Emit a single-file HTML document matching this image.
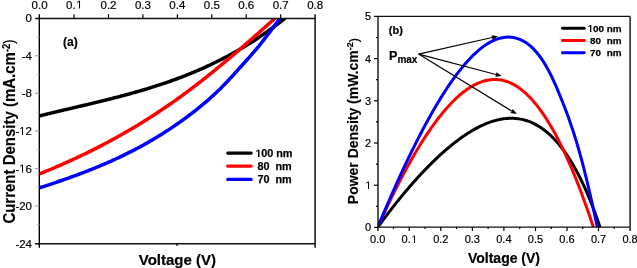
<!DOCTYPE html>
<html><head><meta charset="utf-8"><style>
html,body{margin:0;padding:0;background:#fff;}
body{width:637px;height:268px;overflow:hidden;font-family:"Liberation Sans",sans-serif;}
svg{display:block;}
</style></head><body>
<div style="will-change:transform;width:637px;height:268px"><svg width="637" height="268" viewBox="0 0 637 268">
<defs><clipPath id="cl"><rect x="39.6" y="18.2" width="275.5" height="225.4"/></clipPath><clipPath id="cr"><rect x="377.7" y="16.6" width="252.4" height="210.8"/></clipPath></defs>
<g clip-path="url(#cl)">
<path d="M39.60 115.85L41.14 115.47L42.69 115.09L44.23 114.71L45.78 114.34L47.32 113.96L48.86 113.59L50.41 113.22L51.95 112.85L53.50 112.48L55.04 112.11L56.59 111.74L58.13 111.38L59.67 111.01L61.22 110.65L62.76 110.28L64.31 109.92L65.85 109.56L67.39 109.19L68.94 108.83L70.48 108.47L72.03 108.11L73.57 107.75L75.12 107.38L76.66 107.02L78.20 106.66L79.75 106.30L81.29 105.93L82.84 105.57L84.38 105.21L85.92 104.84L87.47 104.48L89.01 104.11L90.56 103.74L92.10 103.37L93.65 103.00L95.19 102.63L96.73 102.26L98.28 101.89L99.82 101.51L101.37 101.13L102.91 100.76L104.45 100.38L106.00 99.99L107.54 99.61L109.09 99.22L110.63 98.83L112.17 98.44L113.72 98.05L115.26 97.65L116.81 97.25L118.35 96.85L119.90 96.45L121.44 96.04L122.98 95.63L124.53 95.22L126.07 94.81L127.62 94.39L129.16 93.97L130.70 93.54L132.25 93.11L133.79 92.68L135.34 92.24L136.88 91.80L138.43 91.36L139.97 90.91L141.51 90.46L143.06 90.00L144.60 89.54L146.15 89.08L147.69 88.61L149.23 88.14L150.78 87.66L152.32 87.18L153.87 86.69L155.41 86.20L156.95 85.70L158.50 85.20L160.04 84.69L161.59 84.18L163.13 83.66L164.68 83.14L166.22 82.61L167.76 82.08L169.31 81.54L170.85 80.99L172.40 80.44L173.94 79.89L175.48 79.32L177.03 78.75L178.57 78.18L180.12 77.60L181.66 77.01L183.21 76.41L184.75 75.81L186.29 75.20L187.84 74.59L189.38 73.97L190.93 73.34L192.47 72.70L194.01 72.06L195.56 71.41L197.10 70.75L198.65 70.09L200.19 69.42L201.74 68.74L203.28 68.05L204.82 67.35L206.37 66.65L207.91 65.94L209.46 65.22L211.00 64.49L212.54 63.76L214.09 63.01L215.63 62.26L217.18 61.50L218.72 60.73L220.26 59.95L221.81 59.17L223.35 58.37L224.90 57.56L226.44 56.75L227.99 55.93L229.53 55.10L231.07 54.25L232.62 53.40L234.16 52.54L235.71 51.67L237.25 50.79L238.79 49.90L240.34 49.00L241.88 48.09L243.43 47.17L244.97 46.24L246.52 45.30L248.06 44.35L249.60 43.39L251.15 42.42L252.69 41.44L254.24 40.45L255.78 39.44L257.32 38.43L258.87 37.40L260.41 36.37L261.96 35.32L263.50 34.26L265.04 33.19L266.59 32.11L268.13 31.01L269.68 29.91L271.22 28.79L272.77 27.66L274.31 26.52L275.85 25.37L277.40 24.21L278.94 23.03L280.49 21.84L282.03 20.64L283.57 19.43L285.12 18.20" fill="none" stroke="#000" stroke-width="3.5" stroke-linejoin="round"/>
<path d="M39.60 173.91L41.08 173.31L42.56 172.70L44.04 172.10L45.52 171.49L47.01 170.87L48.49 170.25L49.97 169.63L51.45 169.01L52.93 168.38L54.41 167.75L55.89 167.11L57.37 166.47L58.85 165.83L60.34 165.18L61.82 164.53L63.30 163.87L64.78 163.22L66.26 162.55L67.74 161.89L69.22 161.21L70.70 160.54L72.18 159.86L73.66 159.18L75.15 158.49L76.63 157.80L78.11 157.10L79.59 156.40L81.07 155.70L82.55 154.99L84.03 154.27L85.51 153.56L86.99 152.84L88.48 152.11L89.96 151.38L91.44 150.64L92.92 149.90L94.40 149.16L95.88 148.41L97.36 147.65L98.84 146.89L100.32 146.13L101.81 145.36L103.29 144.59L104.77 143.81L106.25 143.03L107.73 142.24L109.21 141.45L110.69 140.65L112.17 139.85L113.65 139.04L115.13 138.23L116.62 137.41L118.10 136.59L119.58 135.76L121.06 134.92L122.54 134.09L124.02 133.24L125.50 132.39L126.98 131.54L128.46 130.68L129.95 129.81L131.43 128.94L132.91 128.06L134.39 127.18L135.87 126.29L137.35 125.40L138.83 124.50L140.31 123.60L141.79 122.69L143.28 121.77L144.76 120.85L146.24 119.92L147.72 118.99L149.20 118.05L150.68 117.10L152.16 116.15L153.64 115.19L155.12 114.23L156.60 113.26L158.09 112.29L159.57 111.31L161.05 110.32L162.53 109.32L164.01 108.32L165.49 107.32L166.97 106.31L168.45 105.29L169.93 104.26L171.42 103.23L172.90 102.19L174.38 101.15L175.86 100.10L177.34 99.04L178.82 97.98L180.30 96.91L181.78 95.83L183.26 94.74L184.75 93.65L186.23 92.56L187.71 91.46L189.19 90.35L190.67 89.23L192.15 88.11L193.63 86.98L195.11 85.85L196.59 84.71L198.07 83.57L199.56 82.42L201.04 81.26L202.52 80.10L204.00 78.93L205.48 77.76L206.96 76.59L208.44 75.40L209.92 74.22L211.40 73.02L212.89 71.83L214.37 70.63L215.85 69.42L217.33 68.21L218.81 66.99L220.29 65.77L221.77 64.55L223.25 63.32L224.73 62.08L226.22 60.85L227.70 59.61L229.18 58.36L230.66 57.11L232.14 55.86L233.62 54.60L235.10 53.34L236.58 52.07L238.06 50.81L239.54 49.53L241.03 48.26L242.51 46.98L243.99 45.70L245.47 44.42L246.95 43.13L248.43 41.84L249.91 40.55L251.39 39.25L252.87 37.95L254.36 36.65L255.84 35.35L257.32 34.04L258.80 32.73L260.28 31.42L261.76 30.11L263.24 28.79L264.72 27.47L266.20 26.15L267.69 24.83L269.17 23.51L270.65 22.18L272.13 20.86L273.61 19.53L275.09 18.20" fill="none" stroke="#f00" stroke-width="3.5" stroke-linejoin="round"/>
<path d="M39.60 187.77L41.11 187.28L42.62 186.80L44.14 186.30L45.65 185.81L47.16 185.31L48.67 184.82L50.19 184.32L51.70 183.81L53.21 183.31L54.72 182.80L56.24 182.29L57.75 181.78L59.26 181.26L60.77 180.74L62.29 180.22L63.80 179.70L65.31 179.17L66.82 178.63L68.34 178.10L69.85 177.56L71.36 177.02L72.87 176.47L74.39 175.92L75.90 175.36L77.41 174.81L78.92 174.24L80.43 173.68L81.95 173.10L83.46 172.53L84.97 171.95L86.48 171.36L88.00 170.77L89.51 170.18L91.02 169.58L92.53 168.97L94.05 168.36L95.56 167.75L97.07 167.13L98.58 166.50L100.10 165.87L101.61 165.23L103.12 164.59L104.63 163.94L106.15 163.29L107.66 162.62L109.17 161.96L110.68 161.28L112.20 160.60L113.71 159.92L115.22 159.22L116.73 158.53L118.24 157.82L119.76 157.11L121.27 156.39L122.78 155.66L124.29 154.93L125.81 154.18L127.32 153.44L128.83 152.68L130.34 151.92L131.86 151.15L133.37 150.37L134.88 149.58L136.39 148.79L137.91 147.98L139.42 147.17L140.93 146.35L142.44 145.53L143.96 144.69L145.47 143.85L146.98 142.99L148.49 142.13L150.01 141.26L151.52 140.38L153.03 139.49L154.54 138.60L156.05 137.69L157.57 136.77L159.08 135.85L160.59 134.91L162.10 133.97L163.62 133.02L165.13 132.05L166.64 131.08L168.15 130.10L169.67 129.10L171.18 128.10L172.69 127.08L174.20 126.06L175.72 125.02L177.23 123.98L178.74 122.92L180.25 121.86L181.77 120.78L183.28 119.69L184.79 118.59L186.30 117.48L187.82 116.36L189.33 115.22L190.84 114.08L192.35 112.92L193.86 111.75L195.38 110.57L196.89 109.37L198.40 108.16L199.91 106.94L201.43 105.70L202.94 104.44L204.45 103.17L205.96 101.88L207.48 100.57L208.99 99.24L210.50 97.90L212.01 96.53L213.53 95.15L215.04 93.74L216.55 92.31L218.06 90.86L219.58 89.39L221.09 87.89L222.60 86.38L224.11 84.83L225.63 83.26L227.14 81.67L228.65 80.06L230.16 78.43L231.67 76.78L233.19 75.12L234.70 73.46L236.21 71.78L237.72 70.10L239.24 68.42L240.75 66.75L242.26 65.07L243.77 63.40L245.29 61.72L246.80 60.03L248.31 58.34L249.82 56.63L251.34 54.92L252.85 53.18L254.36 51.43L255.87 49.65L257.39 47.85L258.90 46.02L260.41 44.17L261.92 42.28L263.44 40.37L264.95 38.42L266.46 36.46L267.97 34.48L269.48 32.48L271.00 30.46L272.51 28.43L274.02 26.39L275.53 24.35L277.05 22.30L278.56 20.25L280.07 18.20" fill="none" stroke="#00f" stroke-width="3.5" stroke-linejoin="round"/>
</g>
<path d="M35.0 18.5 H315.1 M35.0 243.8 H315.1" stroke="#111" stroke-width="1.4" fill="none"/>
<path d="M39.3 14.2 V247.8 M315.1 14.2 V247.8" stroke="#000" stroke-width="1.4" fill="none"/>
<path d="M177 243.8 V246.10000000000002" stroke="#000" stroke-width="1.2"/>
<text x="31.61" y="8.6" font-family="Liberation Sans, sans-serif" font-size="11.5" style="font-kerning:none" stroke="#000" stroke-width="0.2">0.0</text>
<path d="M74.0 18.5 V14.2" stroke="#000" stroke-width="1.2"/>
<text x="66.05" y="8.6" font-family="Liberation Sans, sans-serif" font-size="11.5" style="font-kerning:none" stroke="#000" stroke-width="0.2">0. </text>
<path transform="translate(76.11 8.6) scale(0.005615 -0.005615)" d="M515 0H696V1409H530L197 1180V1010L515 1237Z" fill="#000" stroke="#000" stroke-width="0.2"/>
<path d="M108.5 18.5 V14.2" stroke="#000" stroke-width="1.2"/>
<text x="100.49" y="8.6" font-family="Liberation Sans, sans-serif" font-size="11.5" style="font-kerning:none" stroke="#000" stroke-width="0.2">0.2</text>
<path d="M142.9 18.5 V14.2" stroke="#000" stroke-width="1.2"/>
<text x="134.93" y="8.6" font-family="Liberation Sans, sans-serif" font-size="11.5" style="font-kerning:none" stroke="#000" stroke-width="0.2">0.3</text>
<path d="M177.4 18.5 V14.2" stroke="#000" stroke-width="1.2"/>
<text x="169.37" y="8.6" font-family="Liberation Sans, sans-serif" font-size="11.5" style="font-kerning:none" stroke="#000" stroke-width="0.2">0.4</text>
<path d="M211.8 18.5 V14.2" stroke="#000" stroke-width="1.2"/>
<text x="203.81" y="8.6" font-family="Liberation Sans, sans-serif" font-size="11.5" style="font-kerning:none" stroke="#000" stroke-width="0.2">0.5</text>
<path d="M246.2 18.5 V14.2" stroke="#000" stroke-width="1.2"/>
<text x="238.25" y="8.6" font-family="Liberation Sans, sans-serif" font-size="11.5" style="font-kerning:none" stroke="#000" stroke-width="0.2">0.6</text>
<path d="M280.7 18.5 V14.2" stroke="#000" stroke-width="1.2"/>
<text x="272.69" y="8.6" font-family="Liberation Sans, sans-serif" font-size="11.5" style="font-kerning:none" stroke="#000" stroke-width="0.2">0.7</text>
<text x="307.13" y="8.6" font-family="Liberation Sans, sans-serif" font-size="11.5" style="font-kerning:none" stroke="#000" stroke-width="0.2">0.8</text>
<text x="25.60" y="22.3" font-family="Liberation Sans, sans-serif" font-size="11.5" style="font-kerning:none" stroke="#000" stroke-width="0.2">0</text>
<path d="M36.8 37.0 H39.3" stroke="#bbb" stroke-width="1"/>
<path d="M34.8 55.8 H39.3" stroke="#999" stroke-width="1"/>
<text x="21.77" y="59.9" font-family="Liberation Sans, sans-serif" font-size="11.5" style="font-kerning:none" stroke="#000" stroke-width="0.2">-4</text>
<path d="M36.8 74.5 H39.3" stroke="#bbb" stroke-width="1"/>
<path d="M34.8 93.3 H39.3" stroke="#999" stroke-width="1"/>
<text x="21.77" y="97.4" font-family="Liberation Sans, sans-serif" font-size="11.5" style="font-kerning:none" stroke="#000" stroke-width="0.2">-8</text>
<path d="M36.8 112.1 H39.3" stroke="#bbb" stroke-width="1"/>
<path d="M34.8 130.9 H39.3" stroke="#999" stroke-width="1"/>
<text x="15.38" y="135.0" font-family="Liberation Sans, sans-serif" font-size="11.5" style="font-kerning:none" stroke="#000" stroke-width="0.2">- 2</text>
<path transform="translate(19.11 135.0) scale(0.005615 -0.005615)" d="M515 0H696V1409H530L197 1180V1010L515 1237Z" fill="#000" stroke="#000" stroke-width="0.2"/>
<path d="M36.8 149.7 H39.3" stroke="#bbb" stroke-width="1"/>
<path d="M34.8 168.4 H39.3" stroke="#999" stroke-width="1"/>
<text x="15.38" y="172.5" font-family="Liberation Sans, sans-serif" font-size="11.5" style="font-kerning:none" stroke="#000" stroke-width="0.2">- 6</text>
<path transform="translate(19.11 172.5) scale(0.005615 -0.005615)" d="M515 0H696V1409H530L197 1180V1010L515 1237Z" fill="#000" stroke="#000" stroke-width="0.2"/>
<path d="M36.8 187.2 H39.3" stroke="#bbb" stroke-width="1"/>
<path d="M34.8 206.0 H39.3" stroke="#999" stroke-width="1"/>
<text x="15.38" y="210.1" font-family="Liberation Sans, sans-serif" font-size="11.5" style="font-kerning:none" stroke="#000" stroke-width="0.2">-20</text>
<path d="M36.8 224.8 H39.3" stroke="#bbb" stroke-width="1"/>
<text x="15.38" y="247.7" font-family="Liberation Sans, sans-serif" font-size="11.5" style="font-kerning:none" stroke="#000" stroke-width="0.2">-24</text>
<text x="177.4" y="264.9" font-family="Liberation Sans, sans-serif" font-size="15" font-weight="bold" text-anchor="middle" stroke="#000" stroke-width="0.2">Voltage (V)</text>
<text transform="translate(14.8 223.6) rotate(-90) scale(1 1.06)" font-family="Liberation Sans, sans-serif" font-size="15" font-weight="bold" stroke="#000" stroke-width="0.15">Current Density (mA.cm<tspan dy="-4.8" font-size="9.5">-2</tspan><tspan dy="4.3" font-size="13" font-weight="normal">)</tspan></text>
<text x="63" y="45.6" font-family="Liberation Sans, sans-serif" font-size="12" font-weight="bold" stroke="#000" stroke-width="0.2">(a)</text>
<path d="M227.7 153.1 H251.2" stroke="#000" stroke-width="3.1" stroke-linecap="round"/>
<path d="M227.7 166.1 H251.2" stroke="#f00" stroke-width="3.1" stroke-linecap="round"/>
<path d="M227.7 179.4 H251.2" stroke="#00f" stroke-width="3.1" stroke-linecap="round"/>
<text x="255.20" y="157.1" font-family="Liberation Sans, sans-serif" font-size="10.8" font-weight="bold" style="font-kerning:none" stroke="#000" stroke-width="0.25"> 00 nm</text>
<path transform="translate(255.48 157.1) scale(0.005273 -0.005273)" d="M478 0H759V1409H493L140 1180V959L478 1170Z" fill="#000" stroke="#000" stroke-width="0.25"/>
<text x="257.5" y="170.1" font-family="Liberation Sans, sans-serif" font-size="10.8" font-weight="bold" stroke="#000" stroke-width="0.25">80</text>
<text x="257.5" y="183.4" font-family="Liberation Sans, sans-serif" font-size="10.8" font-weight="bold" stroke="#000" stroke-width="0.25">70</text>
<text x="275.5" y="170.1" font-family="Liberation Sans, sans-serif" font-size="10.8" font-weight="bold" stroke="#000" stroke-width="0.25">nm</text>
<text x="275.5" y="183.4" font-family="Liberation Sans, sans-serif" font-size="10.8" font-weight="bold" stroke="#000" stroke-width="0.25">nm</text>
<g clip-path="url(#cr)">
<path d="M377.70 227.40L379.11 225.44L380.53 223.50L381.94 221.57L383.36 219.65L384.77 217.75L386.19 215.87L387.60 214.00L389.02 212.14L390.43 210.30L391.85 208.48L393.26 206.67L394.67 204.87L396.09 203.09L397.50 201.32L398.92 199.57L400.33 197.83L401.75 196.11L403.16 194.40L404.58 192.70L405.99 191.02L407.41 189.36L408.82 187.70L410.24 186.07L411.65 184.45L413.06 182.84L414.48 181.25L415.89 179.67L417.31 178.11L418.72 176.56L420.14 175.03L421.55 173.51L422.97 172.01L424.38 170.52L425.80 169.05L427.21 167.59L428.62 166.15L430.04 164.73L431.45 163.32L432.87 161.93L434.28 160.56L435.70 159.20L437.11 157.86L438.53 156.53L439.94 155.22L441.35 153.93L442.77 152.66L444.18 151.41L445.60 150.17L447.01 148.95L448.43 147.75L449.84 146.57L451.25 145.41L452.67 144.27L454.08 143.14L455.50 142.04L456.91 140.96L458.33 139.90L459.74 138.85L461.15 137.83L462.57 136.83L463.98 135.86L465.39 134.90L466.81 133.97L468.22 133.06L469.64 132.17L471.05 131.30L472.46 130.46L473.88 129.65L475.29 128.85L476.70 128.09L478.11 127.34L479.53 126.63L480.94 125.94L482.35 125.27L483.76 124.64L485.18 124.03L486.59 123.45L488.00 122.89L489.41 122.37L490.82 121.87L492.24 121.41L493.65 120.97L495.06 120.57L496.47 120.19L497.88 119.85L499.29 119.54L500.70 119.26L502.11 119.02L503.52 118.81L504.93 118.63L506.34 118.49L507.75 118.38L509.15 118.31L510.56 118.28L511.97 118.28L513.38 118.32L514.78 118.40L516.19 118.52L517.60 118.68L519.00 118.87L520.41 119.11L521.81 119.39L523.21 119.71L524.62 120.07L526.02 120.48L527.42 120.93L528.82 121.42L530.23 121.96L531.63 122.55L533.03 123.18L534.42 123.86L535.82 124.59L537.22 125.36L538.62 126.19L540.01 127.06L541.41 127.99L542.80 128.97L544.20 130.00L545.59 131.08L546.98 132.22L548.37 133.41L549.76 134.66L551.15 135.96L552.54 137.32L553.93 138.73L555.31 140.21L556.69 141.74L558.08 143.34L559.46 145.00L560.84 146.71L562.22 148.49L563.60 150.34L564.97 152.24L566.35 154.22L567.72 156.26L569.09 158.36L570.46 160.54L571.83 162.78L573.20 165.09L574.56 167.47L575.93 169.93L577.29 172.45L578.65 175.05L580.00 177.73L581.36 180.48L582.71 183.30L584.07 186.20L585.41 189.18L586.76 192.24L588.11 195.38L589.45 198.60L590.79 201.91L592.13 205.29L593.46 208.76L594.79 212.31L596.12 215.95L597.45 219.68L598.77 223.50L600.09 227.40" fill="none" stroke="#000" stroke-width="3.0" stroke-linejoin="round"/>
<path d="M377.70 227.40L379.06 224.37L380.41 221.37L381.77 218.39L383.13 215.43L384.48 212.50L385.84 209.59L387.20 206.71L388.55 203.85L389.91 201.02L391.27 198.21L392.62 195.43L393.98 192.67L395.34 189.94L396.70 187.23L398.05 184.55L399.41 181.90L400.77 179.28L402.12 176.68L403.48 174.11L404.84 171.57L406.19 169.05L407.55 166.57L408.91 164.11L410.26 161.68L411.62 159.28L412.98 156.90L414.33 154.56L415.69 152.25L417.05 149.97L418.40 147.71L419.76 145.49L421.12 143.30L422.47 141.14L423.83 139.01L425.19 136.92L426.54 134.85L427.90 132.82L429.26 130.82L430.61 128.85L431.97 126.91L433.33 125.01L434.69 123.15L436.04 121.31L437.40 119.51L438.76 117.75L440.11 116.02L441.47 114.33L442.83 112.67L444.18 111.05L445.54 109.46L446.90 107.91L448.25 106.40L449.61 104.92L450.97 103.48L452.32 102.08L453.68 100.72L455.04 99.40L456.39 98.12L457.75 96.87L459.11 95.67L460.46 94.50L461.82 93.38L463.18 92.29L464.53 91.25L465.89 90.25L467.25 89.29L468.60 88.37L469.96 87.50L471.32 86.67L472.68 85.88L474.03 85.14L475.39 84.44L476.75 83.78L478.10 83.17L479.46 82.61L480.82 82.09L482.17 81.61L483.53 81.19L484.89 80.81L486.24 80.47L487.60 80.19L488.96 79.95L490.31 79.76L491.67 79.62L493.03 79.53L494.38 79.49L495.74 79.50L497.10 79.57L498.45 79.68L499.81 79.84L501.17 80.06L502.52 80.32L503.88 80.65L505.24 81.02L506.60 81.45L507.95 81.93L509.31 82.47L510.67 83.06L512.02 83.70L513.38 84.40L514.74 85.16L516.09 85.97L517.45 86.84L518.81 87.76L520.16 88.74L521.52 89.78L522.88 90.87L524.23 92.02L525.59 93.22L526.95 94.49L528.30 95.80L529.66 97.18L531.02 98.61L532.37 100.11L533.73 101.65L535.09 103.26L536.44 104.92L537.80 106.64L539.16 108.42L540.51 110.26L541.87 112.16L543.23 114.11L544.59 116.12L545.94 118.19L547.30 120.32L548.66 122.51L550.01 124.75L551.37 127.06L552.73 129.42L554.08 131.84L555.44 134.32L556.80 136.86L558.15 139.46L559.51 142.11L560.87 144.83L562.22 147.60L563.58 150.43L564.94 153.32L566.29 156.27L567.65 159.27L569.01 162.34L570.36 165.46L571.72 168.64L573.08 171.88L574.43 175.18L575.79 178.54L577.15 181.95L578.51 185.42L579.86 188.95L581.22 192.54L582.58 196.18L583.93 199.89L585.29 203.64L586.65 207.46L588.00 211.34L589.36 215.27L590.72 219.25L592.07 223.30L593.43 227.40" fill="none" stroke="#f00" stroke-width="3.0" stroke-linejoin="round"/>
<path d="M377.70 227.40L379.09 224.06L380.47 220.75L381.86 217.45L383.24 214.17L384.63 210.91L386.01 207.67L387.40 204.45L388.78 201.25L390.17 198.07L391.55 194.91L392.94 191.78L394.33 188.66L395.71 185.56L397.10 182.49L398.48 179.44L399.87 176.40L401.25 173.39L402.64 170.41L404.02 167.44L405.41 164.50L406.80 161.58L408.18 158.68L409.57 155.81L410.95 152.96L412.34 150.13L413.72 147.33L415.11 144.55L416.49 141.80L417.88 139.07L419.26 136.37L420.65 133.69L422.04 131.04L423.42 128.42L424.81 125.82L426.19 123.25L427.58 120.71L428.96 118.20L430.35 115.71L431.73 113.25L433.12 110.83L434.50 108.43L435.89 106.06L437.28 103.72L438.66 101.41L440.05 99.14L441.43 96.89L442.82 94.68L444.20 92.50L445.59 90.35L446.97 88.24L448.36 86.16L449.74 84.12L451.13 82.11L452.52 80.13L453.90 78.19L455.29 76.29L456.67 74.43L458.06 72.60L459.44 70.81L460.83 69.06L462.21 67.35L463.60 65.68L464.98 64.05L466.37 62.46L467.75 60.91L469.14 59.41L470.52 57.95L471.91 56.53L473.29 55.15L474.68 53.82L476.06 52.54L477.45 51.30L478.83 50.11L480.22 48.96L481.60 47.86L482.99 46.82L484.37 45.82L485.76 44.87L487.14 43.97L488.53 43.13L489.91 42.33L491.30 41.59L492.68 40.90L494.07 40.27L495.45 39.69L496.84 39.17L498.22 38.71L499.60 38.30L500.99 37.95L502.37 37.66L503.76 37.43L505.14 37.26L506.53 37.15L507.91 37.10L509.29 37.12L510.68 37.20L512.06 37.35L513.44 37.56L514.83 37.83L516.21 38.18L517.59 38.59L518.98 39.08L520.36 39.63L521.74 40.27L523.12 40.98L524.51 41.76L525.89 42.63L527.27 43.58L528.65 44.62L530.03 45.74L531.42 46.96L532.80 48.26L534.18 49.67L535.56 51.16L536.94 52.76L538.32 54.46L539.70 56.27L541.08 58.18L542.46 60.21L543.84 62.34L545.22 64.60L546.60 66.97L547.98 69.46L549.36 72.07L550.74 74.80L552.12 77.64L553.49 80.57L554.87 83.60L556.25 86.73L557.62 89.93L559.00 93.21L560.38 96.56L561.75 99.97L563.13 103.44L564.50 106.98L565.88 110.60L567.25 114.30L568.63 118.08L570.00 121.97L571.37 125.96L572.75 130.06L574.12 134.28L575.49 138.64L576.86 143.13L578.23 147.78L579.60 152.58L580.97 157.54L582.34 162.66L583.71 167.93L585.08 173.34L586.45 178.89L587.81 184.57L589.18 190.38L590.54 196.30L591.91 202.33L593.27 208.47L594.64 214.69L596.00 221.01L597.36 227.40" fill="none" stroke="#00f" stroke-width="3.0" stroke-linejoin="round"/>
</g>
<path d="M374.0 16.4 H630.1 M378.0 227.1 H630.1" stroke="#111" stroke-width="1.4" fill="none"/>
<path d="M378.0 16.4 V231.1 M630.1 16.4 V231.1" stroke="#111" stroke-width="1.4" fill="none"/>
<text x="370.05" y="243" font-family="Liberation Sans, sans-serif" font-size="11" style="font-kerning:none" stroke="#000" stroke-width="0.2">0.0</text>
<path d="M393.5 227.1 V229.1" stroke="#000" stroke-width="1.2"/>
<path d="M409.2 227.1 V231.1" stroke="#000" stroke-width="1.2"/>
<text x="401.60" y="243" font-family="Liberation Sans, sans-serif" font-size="11" style="font-kerning:none" stroke="#000" stroke-width="0.2">0. </text>
<path transform="translate(411.23 243) scale(0.005371 -0.005371)" d="M515 0H696V1409H530L197 1180V1010L515 1237Z" fill="#000" stroke="#000" stroke-width="0.2"/>
<path d="M425.0 227.1 V229.1" stroke="#000" stroke-width="1.2"/>
<path d="M440.8 227.1 V231.1" stroke="#000" stroke-width="1.2"/>
<text x="433.15" y="243" font-family="Liberation Sans, sans-serif" font-size="11" style="font-kerning:none" stroke="#000" stroke-width="0.2">0.2</text>
<path d="M456.6 227.1 V229.1" stroke="#000" stroke-width="1.2"/>
<path d="M472.4 227.1 V231.1" stroke="#000" stroke-width="1.2"/>
<text x="464.70" y="243" font-family="Liberation Sans, sans-serif" font-size="11" style="font-kerning:none" stroke="#000" stroke-width="0.2">0.3</text>
<path d="M488.1 227.1 V229.1" stroke="#000" stroke-width="1.2"/>
<path d="M503.9 227.1 V231.1" stroke="#000" stroke-width="1.2"/>
<text x="496.25" y="243" font-family="Liberation Sans, sans-serif" font-size="11" style="font-kerning:none" stroke="#000" stroke-width="0.2">0.4</text>
<path d="M519.7 227.1 V229.1" stroke="#000" stroke-width="1.2"/>
<path d="M535.5 227.1 V231.1" stroke="#000" stroke-width="1.2"/>
<text x="527.80" y="243" font-family="Liberation Sans, sans-serif" font-size="11" style="font-kerning:none" stroke="#000" stroke-width="0.2">0.5</text>
<path d="M551.2 227.1 V229.1" stroke="#000" stroke-width="1.2"/>
<path d="M567.0 227.1 V231.1" stroke="#000" stroke-width="1.2"/>
<text x="559.35" y="243" font-family="Liberation Sans, sans-serif" font-size="11" style="font-kerning:none" stroke="#000" stroke-width="0.2">0.6</text>
<path d="M582.8 227.1 V229.1" stroke="#000" stroke-width="1.2"/>
<path d="M598.5 227.1 V231.1" stroke="#000" stroke-width="1.2"/>
<text x="590.90" y="243" font-family="Liberation Sans, sans-serif" font-size="11" style="font-kerning:none" stroke="#000" stroke-width="0.2">0.7</text>
<path d="M614.3 227.1 V229.1" stroke="#000" stroke-width="1.2"/>
<text x="622.45" y="243" font-family="Liberation Sans, sans-serif" font-size="11" style="font-kerning:none" stroke="#000" stroke-width="0.2">0.8</text>
<path d="M374.0 227.4 H378.0" stroke="#000" stroke-width="1.2"/>
<text x="364.88" y="231.3" font-family="Liberation Sans, sans-serif" font-size="11" style="font-kerning:none" stroke="#000" stroke-width="0.2">0</text>
<path d="M376.0 206.3 H378.0" stroke="#000" stroke-width="1.2"/>
<path d="M374.0 185.2 H378.0" stroke="#000" stroke-width="1.2"/>
<text x="364.88" y="189.1" font-family="Liberation Sans, sans-serif" font-size="11" style="font-kerning:none" stroke="#000" stroke-width="0.2"> </text>
<path transform="translate(365.23 189.1) scale(0.005371 -0.005371)" d="M515 0H696V1409H530L197 1180V1010L515 1237Z" fill="#000" stroke="#000" stroke-width="0.2"/>
<path d="M376.0 164.1 H378.0" stroke="#000" stroke-width="1.2"/>
<path d="M374.0 143.0 H378.0" stroke="#000" stroke-width="1.2"/>
<text x="364.88" y="146.9" font-family="Liberation Sans, sans-serif" font-size="11" style="font-kerning:none" stroke="#000" stroke-width="0.2">2</text>
<path d="M376.0 121.9 H378.0" stroke="#000" stroke-width="1.2"/>
<path d="M374.0 100.8 H378.0" stroke="#000" stroke-width="1.2"/>
<text x="364.88" y="104.7" font-family="Liberation Sans, sans-serif" font-size="11" style="font-kerning:none" stroke="#000" stroke-width="0.2">3</text>
<path d="M376.0 79.7 H378.0" stroke="#000" stroke-width="1.2"/>
<path d="M374.0 58.6 H378.0" stroke="#000" stroke-width="1.2"/>
<text x="364.88" y="62.5" font-family="Liberation Sans, sans-serif" font-size="11" style="font-kerning:none" stroke="#000" stroke-width="0.2">4</text>
<path d="M376.0 37.5 H378.0" stroke="#000" stroke-width="1.2"/>
<text x="364.88" y="20.3" font-family="Liberation Sans, sans-serif" font-size="11" style="font-kerning:none" stroke="#000" stroke-width="0.2">5</text>
<text x="504" y="263.1" font-family="Liberation Sans, sans-serif" font-size="14" font-weight="bold" text-anchor="middle" stroke="#000" stroke-width="0.2">Voltage (V)</text>
<text transform="translate(358.3 204.2) rotate(-90) scale(1 1.05)" font-family="Liberation Sans, sans-serif" font-size="14" font-weight="bold" stroke="#000" stroke-width="0.15">Power Density (mW.cm<tspan dy="-5" font-size="9">-2</tspan><tspan dy="4.6" font-size="13" font-weight="normal">)</tspan></text>
<text x="388.8" y="33.8" font-family="Liberation Sans, sans-serif" font-size="11" font-weight="bold" stroke="#000" stroke-width="0.2">(b)</text>
<text x="389" y="60" font-family="Liberation Sans, sans-serif" font-size="12.6" font-weight="bold" stroke="#000" stroke-width="0.2">P<tspan dy="3.2" font-size="10">max</tspan></text>
<path d="M418.6 54.1 L492.1 37.5" stroke="#000" stroke-width="1.15"/>
<path d="M498 36.2 L492.7 39.8 L491.6 35.3 Z" fill="#000"/>
<path d="M418.6 54.1 L495.9 74.5" stroke="#000" stroke-width="1.15"/>
<path d="M501.7 76 L495.3 76.7 L496.5 72.2 Z" fill="#000"/>
<path d="M418.6 54.1 L511.7 111.0" stroke="#000" stroke-width="1.15"/>
<path d="M516.8 114.1 L510.5 112.9 L512.9 109.0 Z" fill="#000"/>
<path d="M562.4 28.3 H584.3" stroke="#000" stroke-width="2.9" stroke-linecap="round"/>
<path d="M562.4 40.5 H584.3" stroke="#f00" stroke-width="2.9" stroke-linecap="round"/>
<path d="M562.4 52.8 H584.3" stroke="#00f" stroke-width="2.9" stroke-linecap="round"/>
<text x="587.60" y="31.9" font-family="Liberation Sans, sans-serif" font-size="9.9" font-weight="bold" style="font-kerning:none" stroke="#000" stroke-width="0.25"> 00 nm</text>
<path transform="translate(587.69 31.9) scale(0.004834 -0.004834)" d="M478 0H759V1409H493L140 1180V959L478 1170Z" fill="#000" stroke="#000" stroke-width="0.25"/>
<text x="590" y="44.1" font-family="Liberation Sans, sans-serif" font-size="9.9" font-weight="bold" stroke="#000" stroke-width="0.25">80</text>
<text x="590" y="56.4" font-family="Liberation Sans, sans-serif" font-size="9.9" font-weight="bold" stroke="#000" stroke-width="0.25">70</text>
<text x="606.8" y="44.1" font-family="Liberation Sans, sans-serif" font-size="9.9" font-weight="bold" stroke="#000" stroke-width="0.25">nm</text>
<text x="606.8" y="56.4" font-family="Liberation Sans, sans-serif" font-size="9.9" font-weight="bold" stroke="#000" stroke-width="0.25">nm</text>
</svg></div>
</body></html>
